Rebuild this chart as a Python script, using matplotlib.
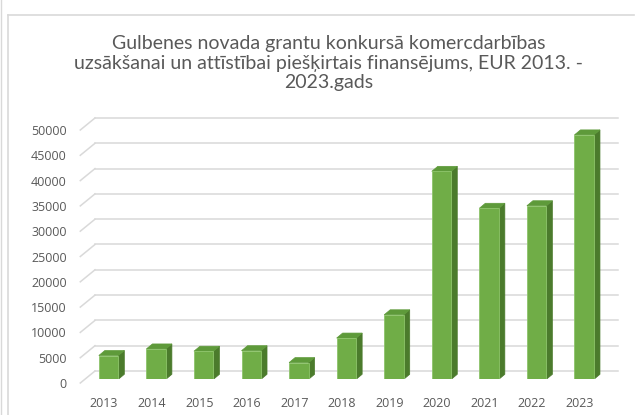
import matplotlib
matplotlib.use('Agg')
import numpy as np
import matplotlib.pyplot as plt
from matplotlib.patches import Polygon
from matplotlib.lines import Line2D
from matplotlib.transforms import ScaledTranslation

# data
years = ['2013', '2014', '2015', '2016', '2017', '2018', '2019', '2020', '2021', '2022', '2023']
funding = [4700, 6000, 5550, 5650, 3300, 8150, 12750, 41100, 33800, 34300, 48300]
y_ticks = list(range(0, 50001, 5000))

title = ('Gulbenes novada grantu konkursā komercdarbības\n'
         'uzsākšanai un attīstībai piešķirtais finansējums, EUR 2013. -\n'
         '2023.gads')

GRID = '#d9d9d9'
TEXT = '#595959'
FRONT = '#70ad47'
SIDE = '#4b7b2c'
TOP = '#5e9a3a'

W, H = 638, 415
fig = plt.figure(figsize=(W / 100, H / 100), dpi=100)

# plot area (the plane in which the bars stand), pixels
left_px, right_px, bottom_px, top_px = 84.8, 608.0, 379.3, 126.3
ax = fig.add_axes([left_px / W, 1 - bottom_px / H,
                   (right_px - left_px) / W, (bottom_px - top_px) / H])
ax.set_xlim(-0.5, len(years) - 0.5)
ax.set_ylim(0, 50000)
for s in ax.spines.values():
    s.set_visible(False)

px_x = (right_px - left_px) / len(years)   # pixels per category
px_y = (bottom_px - top_px) / 50000        # pixels per value unit


def off(dx_px, dy_px):
    return dx_px / px_x, dy_px / px_y


# back wall and left wall gridlines
bx, by = off(10.2, 8.3)
fx, fy = off(-4.5, -3.7)
x0, x1 = ax.get_xlim()
for t in y_ticks:
    ax.plot([x0 + fx, x0 + bx], [t + fy, t + by], color=GRID, lw=1.1,
            clip_on=False, zorder=0)
    ax.plot([x0 + bx, x1 + bx], [t + by, t + by], color=GRID, lw=1.1,
            clip_on=False, zorder=0)

# 3d looking columns
x = np.arange(len(years))
w = 0.41
sx, sy = off(6, 5)
for xi, v in zip(x, funding):
    r = xi + w / 2
    l = xi - w / 2
    ax.add_patch(Polygon([(r, 0), (r + sx, sy), (r + sx, v + sy), (r, v)],
                         closed=True, facecolor=SIDE, edgecolor=SIDE, lw=0.5, zorder=3))
    ax.add_patch(Polygon([(l, v), (r, v), (r + sx, v + sy), (l + sx, v + sy)],
                         closed=True, facecolor=TOP, edgecolor=TOP, lw=0.5, zorder=3))
ax.bar(x, funding, w, color=FRONT, edgecolor='#8dc46a', linewidth=0.6, zorder=4)

# ticks
ax.set_yticks(y_ticks)
ax.set_yticklabels([str(t) for t in y_ticks])
ax.set_xticks(x)
ax.set_xticklabels(years)
ax.tick_params(axis='both', length=0, colors=TEXT, labelsize=9)
ax.tick_params(axis='y', pad=13)
ax.tick_params(axis='x', pad=13)
for lab in ax.get_yticklabels():
    lab.set_fontfamily('Open Sans')
    lab.set_transform(lab.get_transform() + ScaledTranslation(0, -0.037, fig.dpi_scale_trans))
for lab in ax.get_xticklabels():
    lab.set_fontfamily('Open Sans')
    lab.set_transform(lab.get_transform() + ScaledTranslation(-0.045, 0, fig.dpi_scale_trans))

# title
fig.text(329 / W, 1 - 63 / H, title, ha='center', va='center', fontsize=14,
         color=TEXT, family='Lato', linespacing=1.2)

# chart frame
fig.add_artist(Line2D([8 / W, 634 / W], [1 - 15 / H, 1 - 15 / H], color=GRID, lw=1.2))
fig.add_artist(Line2D([8 / W, 8 / W], [0, 1 - 15 / H], color=GRID, lw=1.2))
fig.add_artist(Line2D([1 / W, 1 / W], [0, 1], color=GRID, lw=1))

fig.savefig('out.png', dpi=100)
